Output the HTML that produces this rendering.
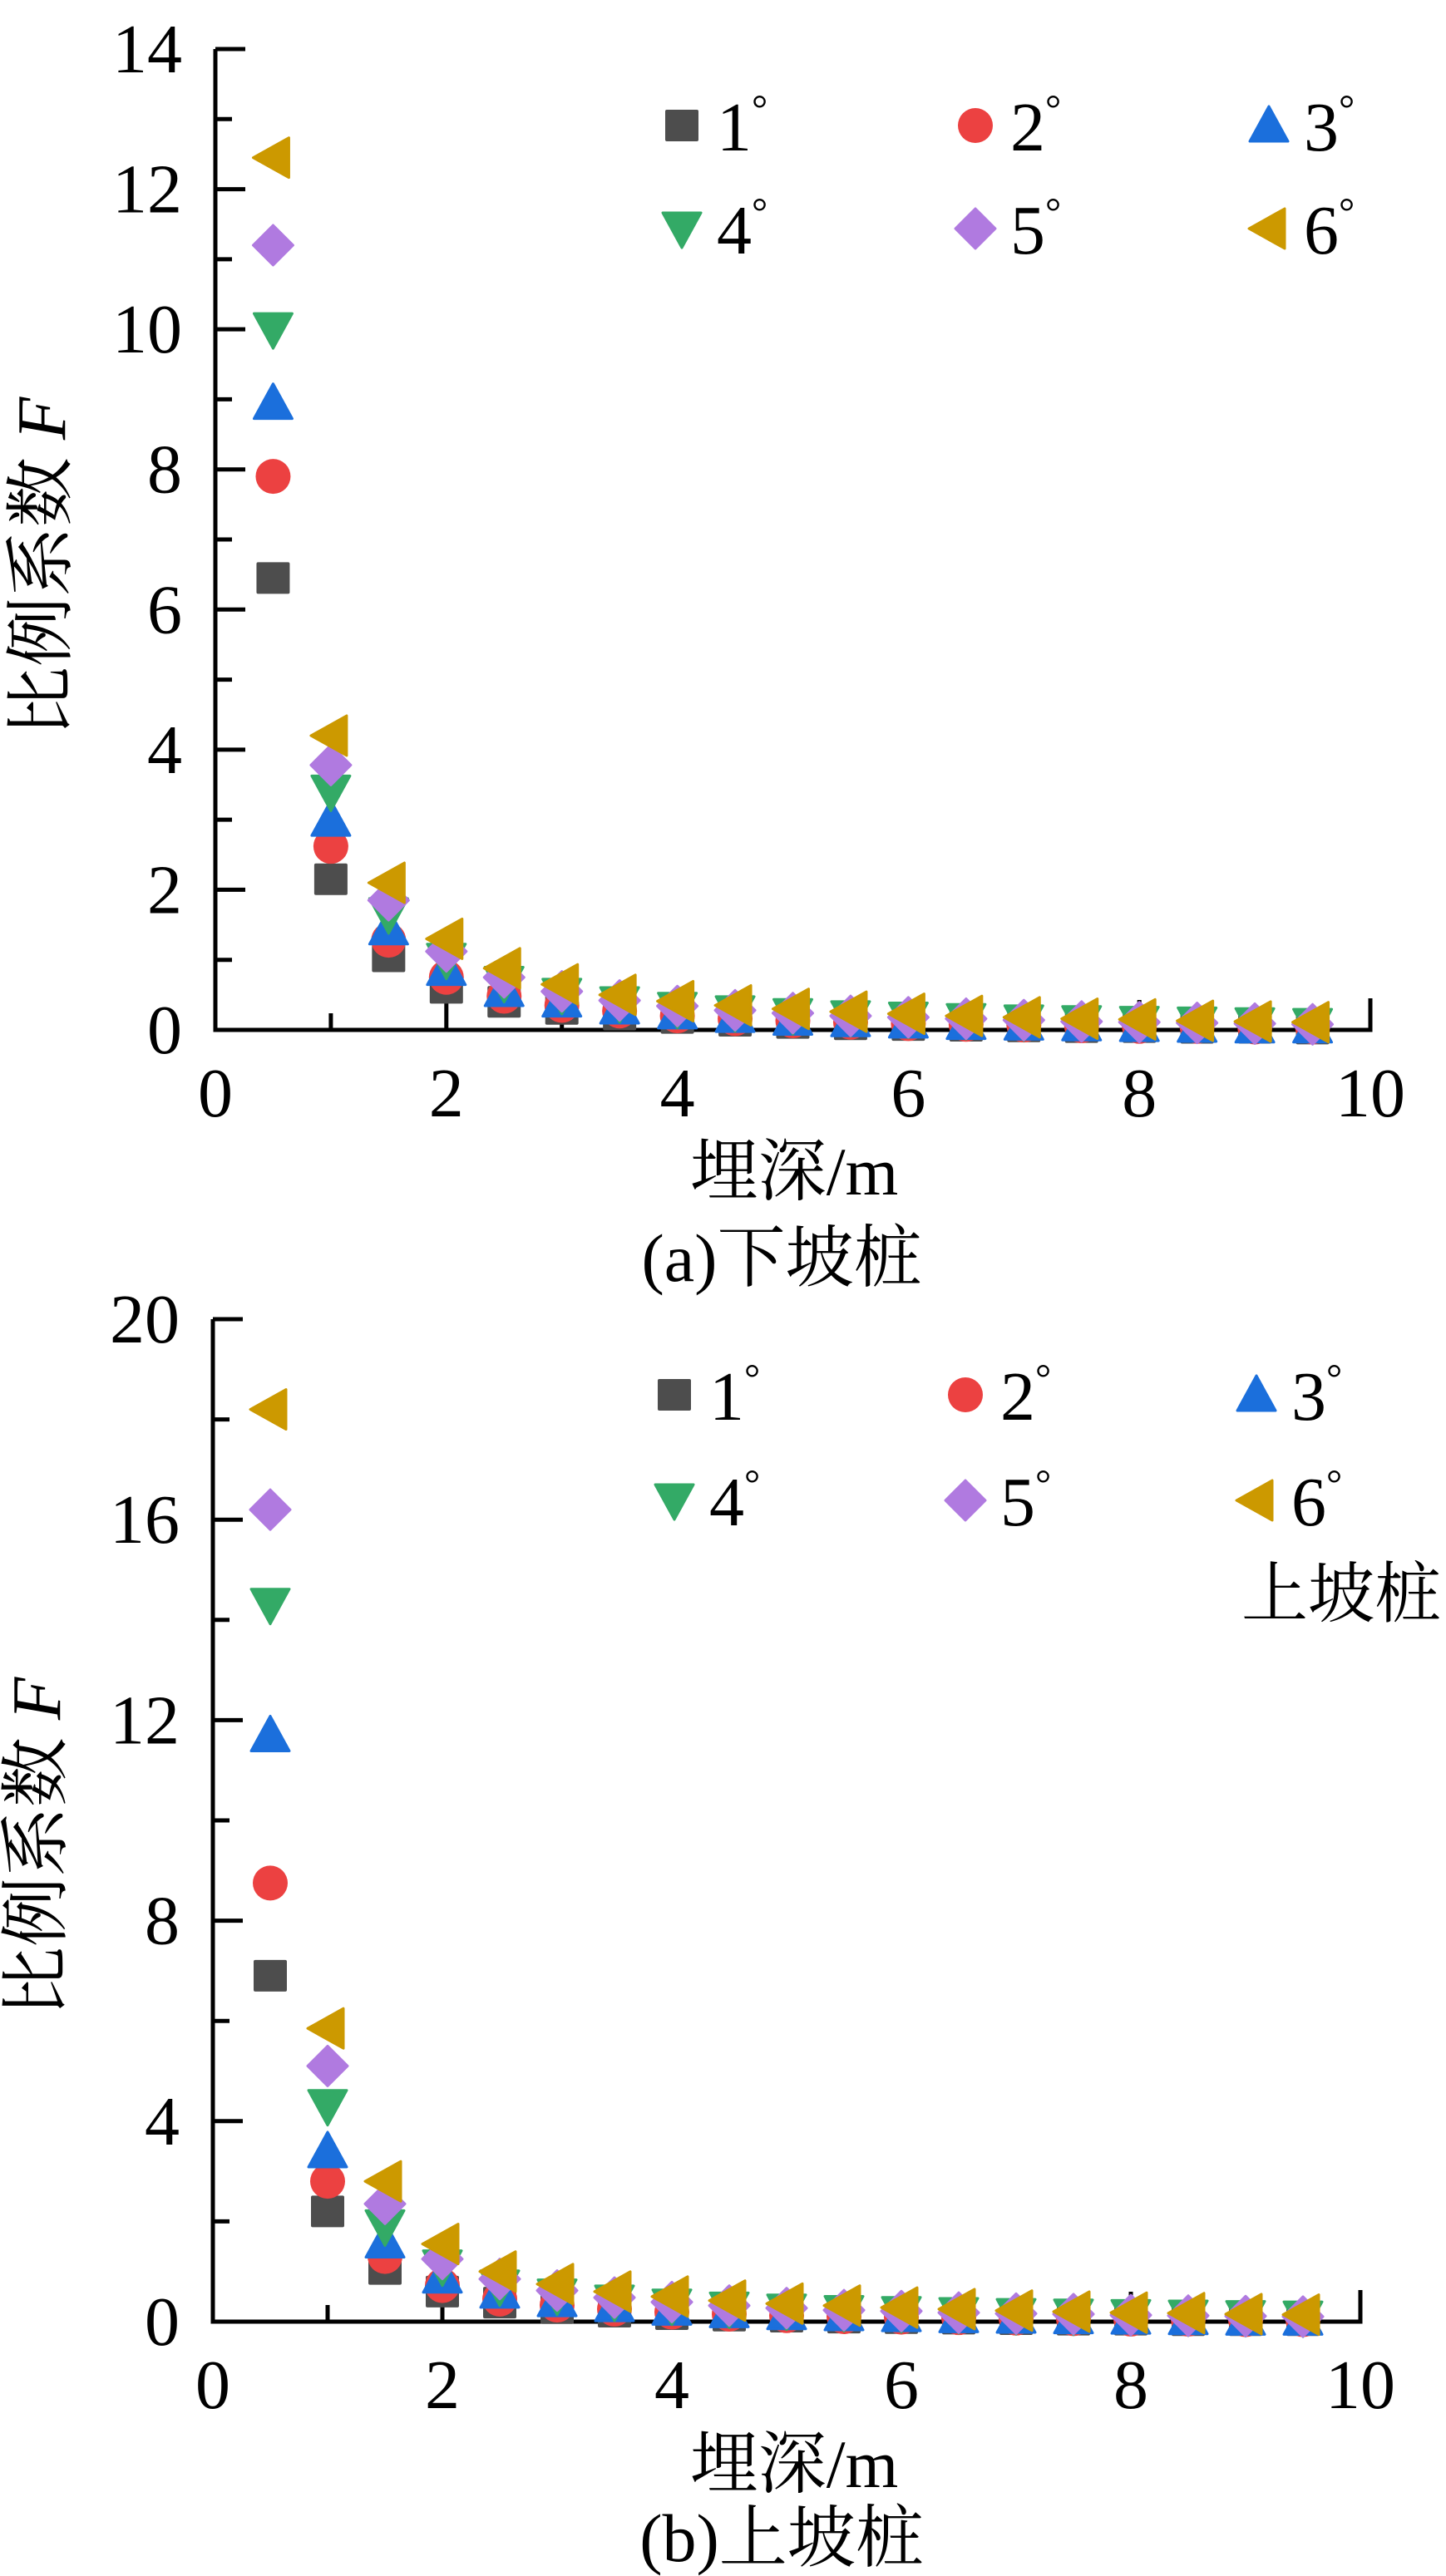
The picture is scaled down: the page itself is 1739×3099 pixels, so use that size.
<!DOCTYPE html>
<html><head><meta charset="utf-8"><style>
html,body{margin:0;padding:0;background:#fff;}
svg{display:block;}
svg text{font-family:"Liberation Serif","Times New Roman","DejaVu Serif","Noto Serif CJK SC",serif;fill:#000;}
</style></head><body>
<svg id="chart" width="1739" height="3099" viewBox="0 0 1739 3099" xmlns="http://www.w3.org/2000/svg" font-family="Liberation Serif, Times New Roman, DejaVu Serif, Noto Serif CJK SC, serif"></svg>
<script>
const depths = [0.5,1,1.5,2,2.5,3,3.5,4,4.5,5,5.5,6,6.5,7,7.5,8,8.5,9,9.5];
const seriesLabels = ["1","2","3","4","5","6"];
const seriesColors = ["#4d4d4d","#ec4141","#1b6fdc","#33aa66","#b07ae0","#cc9900"];
const seriesShapes = ["square","circle","up","down","diamond","left"];
const a1 = [6.45,2.15,1.05,0.6,0.4,0.3,0.22,0.17,0.13,0.1,0.08,0.07,0.06,0.05,0.04,0.04,0.03,0.03,0.02];
const a2 = [7.9,2.62,1.28,0.75,0.48,0.35,0.27,0.2,0.16,0.13,0.11,0.09,0.08,0.07,0.06,0.05,0.05,0.04,0.04];
const a3 = [8.95,3.0,1.45,0.87,0.57,0.42,0.32,0.25,0.2,0.16,0.14,0.12,0.1,0.09,0.08,0.07,0.06,0.05,0.05];
const a4 = [10.0,3.4,1.65,1.0,0.67,0.5,0.38,0.3,0.25,0.21,0.18,0.16,0.14,0.12,0.11,0.1,0.09,0.08,0.07];
const a5 = [11.2,3.78,1.85,1.12,0.75,0.55,0.42,0.34,0.28,0.24,0.2,0.18,0.16,0.14,0.12,0.11,0.1,0.09,0.08];
const a6 = [12.45,4.2,2.1,1.3,0.88,0.65,0.5,0.41,0.35,0.3,0.26,0.23,0.2,0.18,0.16,0.15,0.13,0.12,0.11];
const b1 = [6.9,2.2,1.05,0.6,0.38,0.27,0.2,0.15,0.12,0.1,0.08,0.07,0.06,0.05,0.04,0.04,0.03,0.03,0.03];
const b2 = [8.75,2.8,1.3,0.72,0.45,0.33,0.25,0.19,0.15,0.12,0.1,0.09,0.08,0.07,0.06,0.05,0.05,0.04,0.04];
const b3 = [11.7,3.4,1.6,0.9,0.6,0.43,0.33,0.26,0.21,0.17,0.15,0.13,0.11,0.1,0.09,0.08,0.07,0.06,0.06];
const b4 = [14.3,4.3,1.9,1.1,0.7,0.52,0.4,0.32,0.26,0.22,0.19,0.17,0.15,0.13,0.12,0.11,0.1,0.09,0.08];
const b5 = [16.2,5.1,2.35,1.25,0.85,0.62,0.48,0.39,0.32,0.27,0.23,0.21,0.18,0.16,0.15,0.13,0.12,0.11,0.1];
const b6 = [18.2,5.85,2.8,1.55,1.0,0.75,0.6,0.5,0.42,0.36,0.32,0.28,0.25,0.22,0.2,0.18,0.17,0.15,0.14];
const xTicksLabels = ["0","2","4","6","8","10"];
const aYTickLabels = ["0","2","4","6","8","10","12","14"];
const bYTickLabels = ["0","4","8","12","16","20"];

const NS="http://www.w3.org/2000/svg";
const svg=document.getElementById('chart');
const FF="Liberation Serif, Times New Roman, DejaVu Serif, Noto Serif CJK SC, serif";
function mk(tag,attrs,parent){const e=document.createElementNS(NS,tag);for(const k in attrs)e.setAttribute(k,attrs[k]);if(tag==='text')e.setAttribute('font-family',FF);(parent||svg).appendChild(e);return e;}

function marker(g,shape,cx,cy,color){
  const s=21;let e;
  if(shape==="square"){e=mk('rect',{x:cx-s+1,y:cy-s+2,width:2*s-2,height:2*s-4,rx:2,fill:color},g);}
  else if(shape==="circle"){e=mk('circle',{cx:cx,cy:cy,r:s,fill:color},g);}
  else if(shape==="up"){e=mk('polygon',{points:`${cx},${cy-s-2} ${cx+s+2},${cy+s-2} ${cx-s-2},${cy+s-2}`,fill:color,'stroke':color,'stroke-width':3,'stroke-linejoin':'round'},g);}
  else if(shape==="down"){e=mk('polygon',{points:`${cx},${cy+s+2} ${cx+s+2},${cy-s+2} ${cx-s-2},${cy-s+2}`,fill:color,'stroke':color,'stroke-width':3,'stroke-linejoin':'round'},g);}
  else if(shape==="diamond"){e=mk('polygon',{points:`${cx},${cy-s-3} ${cx+s+3},${cy} ${cx},${cy+s+3} ${cx-s-3},${cy}`,fill:color,'stroke':color,'stroke-width':3,'stroke-linejoin':'round'},g);}
  else {e=mk('polygon',{points:`${cx-s-3},${cy} ${cx+s-2},${cy-s-3} ${cx+s-2},${cy+s+3}`,fill:color,'stroke':color,'stroke-width':3,'stroke-linejoin':'round'},g);}
  return e;
}

function panel(cfg){
  const g=mk('g',{});
  
  
  const X=v=>cfg.x0+(cfg.x1-cfg.x0)*v/10;
  const Y=v=>cfg.y0-(cfg.y0-cfg.y1)*v/cfg.ymax;
  const ax=mk('path',{d:`M${cfg.x0},${cfg.y1} V${cfg.y0} H${cfg.x1} V${cfg.y0-38}`,fill:'none',stroke:'#000','stroke-width':5},g);
  
  
  const nY=cfg.yLabels.length-1;
  for(let i=0;i<=nY*2;i++){
    const v=cfg.ymax*i/(nY*2);const y=Y(v);
    const len=(i%2===0)?36:20;
    mk('line',{x1:cfg.x0,x2:cfg.x0+len,y1:y,y2:y,stroke:'#000','stroke-width':5},g);
  }
  cfg.yLabels.forEach((lab)=>{
    const t=mk('text',{x:cfg.x0-40,y:Y(+lab)+28,'text-anchor':'end','font-size':84},g);
    t.textContent=lab;
    
    
  });
  for(let i=1;i<10;i++){
    const len=(i%2===0)?36:20;
    mk('line',{x1:X(i),x2:X(i),y1:cfg.y0,y2:cfg.y0-len,stroke:'#000','stroke-width':5},g);
  }
  xTicksLabels.forEach(lab=>{
    const t=mk('text',{x:X(+lab),y:cfg.y0+104,'text-anchor':'middle','font-size':84},g);
    t.textContent=lab;
    
    
  });
  cfg.series.forEach((vals,si)=>{
    const sg=mk('g',{},g);
    
    
    vals.forEach((v,i)=>{
      const m=marker(sg,seriesShapes[si],X(depths[i]),Y(v),seriesColors[si]);
      
      
    });
  });
  seriesLabels.forEach((lab,i)=>{
    const lg=mk('g',{},g);
    
    
    const col=i%3,row=Math.floor(i/3);
    const mx=cfg.legX[col],my=cfg.legY[row];
    marker(lg,seriesShapes[i],mx,my,seriesColors[i]);
    const t=mk('text',{x:mx+42,y:my+30,'font-size':84},lg);
    t.innerHTML=lab+'<tspan font-size="48" dy="-34">°</tspan>';
  });
  const yt=mk('text',{x:0,y:0,'text-anchor':'middle','font-size':84,transform:`translate(${cfg.ytX},${cfg.ytY}) rotate(-90)`},g);
  yt.innerHTML='比例系数 <tspan font-style="italic">F</tspan>';
  
  
  const xt=mk('text',{x:955,y:cfg.xtY+29,'text-anchor':'middle','font-size':82},g);
  xt.textContent='埋深/m';
  
  
  const cap=mk('text',{x:940,y:cfg.capY+29,'text-anchor':'middle','font-size':82},g);
  cap.textContent=cfg.caption;
  
  
  return g;
}

panel({name:'panel-a-downslope',x0:259,x1:1648,y0:1239,y1:59,ymax:14,yLabels:aYTickLabels,
  series:[a1,a2,a3,a4,a5,a6],legX:[820,1173,1526],legY:[151,275],ytX:78,ytY:682,xtY:1408,capY:1512,caption:'(a)下坡桩'});
panel({name:'panel-b-upslope',x0:256,x1:1636,y0:2793,y1:1587,ymax:20,yLabels:bYTickLabels,
  series:[b1,b2,b3,b4,b5,b6],legX:[811,1161,1511],legY:[1678,1805],ytX:72,ytY:2222,xtY:2963,capY:3052,caption:'(b)上坡桩'});
const note=mk('text',{x:1733,y:1945,'text-anchor':'end','font-size':80});
note.textContent='上坡桩';


</script>
</body></html>
